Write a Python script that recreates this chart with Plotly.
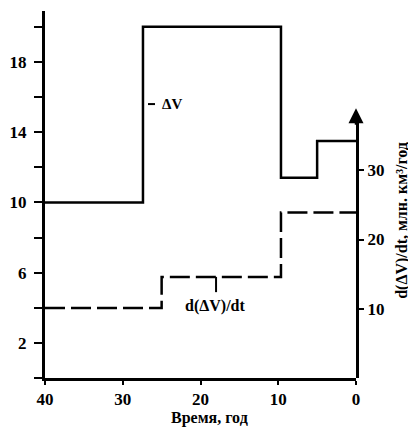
import plotly.graph_objects as go

# Data
time_dv = [40, 27.4, 9.65, 5.0, 0]
dv = [10, 20, 11.4, 13.5, 13.5]
time_rate = [40, 25.0, 9.65, 0]
rate = [10.1, 14.6, 23.9, 23.9]

left_ticks = [2, 6, 10, 14, 18]
right_ticks = [10, 20, 30]
x_ticks = [40, 30, 20, 10, 0]

SERIF = "Liberation Serif"
tf = dict(family=SERIF, size=17, color="black", weight="bold")

fig = go.Figure()
fig.add_trace(go.Scatter(x=time_dv, y=dv, mode="lines", line_shape="hv",
                         line=dict(color="black", width=2.5), xaxis="x", yaxis="y",
                         showlegend=False, hoverinfo="skip"))
fig.add_trace(go.Scatter(x=time_rate, y=rate, mode="lines", line_shape="hv",
                         line=dict(color="black", width=2.5, dash="20px,6px"),
                         xaxis="x", yaxis="y2", showlegend=False, hoverinfo="skip"))

y2_top_val = 37.1
fig.update_layout(
    width=408, height=420,
    margin=dict(l=37, r=60, t=2.5, b=50),
    paper_bgcolor="white", plot_bgcolor="rgba(0,0,0,0)",
    xaxis=dict(range=[40, 0], tickvals=x_ticks, ticks="outside", ticklen=4, tickwidth=2,
               tickcolor="black", showline=True, linewidth=3, linecolor="black",
               showgrid=False, zeroline=False, tickfont=tf),
    yaxis=dict(range=[0, 20.9], tickvals=left_ticks, ticks="outside", ticklen=8, tickwidth=2,
               tickcolor="black", showline=True, linewidth=3, linecolor="black",
               showgrid=False, zeroline=False, tickfont=tf, ticklabelstandoff=4,
               minor=dict(tick0=0, dtick=2, ticks="outside", ticklen=8, tickwidth=2,
                          tickcolor="black", showgrid=False)),
    yaxis2=dict(range=[0, y2_top_val], domain=[0, 0.70], anchor="x", side="right",
                tickvals=right_ticks, ticks="outside", ticklen=5, tickwidth=2,
                tickcolor="black", showline=True, linewidth=3, linecolor="black",
                showgrid=False, zeroline=False, tickfont=tf),
)

# arrow head on right axis
fig.add_annotation(x=0, y=0.735, xref="x", yref="paper", ax=0, ay=18, text="",
                   showarrow=True, arrowhead=2, arrowsize=1.2, arrowwidth=2.5,
                   arrowcolor="black")

# ΔV label with tick
fig.add_shape(type="line", x0=26.75, x1=25.85, y0=15.6, y1=15.6, xref="x", yref="y",
              line=dict(color="black", width=2))
fig.add_annotation(x=25.2, y=15.6, xref="x", yref="y", text="ΔV", showarrow=False,
                   xanchor="left", yanchor="middle",
                   font=dict(family=SERIF, size=15, color="black", weight="bold"))

# d(ΔV)/dt label with tick
fig.add_shape(type="line", x0=18.0, x1=18.0, y0=14.6, y1=12.4, xref="x", yref="y2",
              line=dict(color="black", width=2))
fig.add_annotation(x=18.1, y=10.4, xref="x", yref="y2", text="d(ΔV)/dt", showarrow=False,
                   xanchor="center", yanchor="middle",
                   font=dict(family=SERIF, size=16, color="black", weight="bold"))

# right axis title
fig.add_annotation(x=1.15, y=0.43, xref="x domain", yref="paper", text="d(ΔV)/dt, млн. км³/год",
                   textangle=-90, showarrow=False, xanchor="center", yanchor="middle",
                   font=dict(family=SERIF, size=16, color="black", weight="bold"))

# x axis title
fig.add_annotation(x=0.53, y=-0.109, xref="paper", yref="paper", text="Время, год", showarrow=False,
                   xanchor="center", yanchor="middle",
                   font=dict(family=SERIF, size=16, color="black", weight="bold"))

fig.write_html("out.html")
